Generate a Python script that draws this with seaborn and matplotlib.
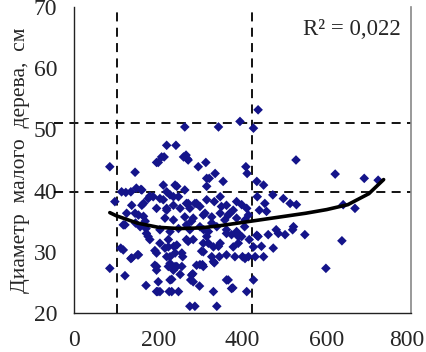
import numpy as np
import pandas as pd
import matplotlib
matplotlib.use("Agg")
import matplotlib.pyplot as plt
import matplotlib.transforms as mtransforms
import seaborn as sns
from matplotlib.ticker import MultipleLocator

# ---- data ----
x_vals = [85, 85, 97, 111, 117, 121, 123, 121, 125, 137, 137, 145, 145, 148, 151, 157, 161, 165,
          169, 171, 172, 176, 180, 188, 192, 196, 200, 196, 199, 204, 212, 214, 212, 216, 220, 220,
          224, 228, 224, 226, 232, 236, 237, 240, 242, 244, 248, 252, 256, 258, 260, 263, 263, 267,
          269, 267, 271, 275, 277, 279, 282, 283, 287, 291, 295, 298, 299, 303, 305, 308, 311, 313,
          315, 319, 321, 327, 331, 333, 335, 339, 343, 343, 345, 347, 350, 354, 358, 362, 366, 370,
          374, 377, 382, 386, 388, 390, 394, 398, 400, 405, 408, 410, 411, 414, 416, 426, 426, 430,
          434, 435, 437, 437, 440, 445, 450, 450, 453, 457, 461, 472, 473, 480, 485, 497, 501, 513,
          519, 521, 527, 528, 548, 598, 620, 636, 639, 667, 689, 722,
          113, 135, 159, 161, 180, 153, 165, 146, 171, 176, 117, 135, 153, 208, 266, 271, 315, 240,
          220, 204, 228, 248, 236, 196, 220, 252, 267, 275, 287, 299, 315, 333, 362, 378, 410, 216,
          236, 263, 283, 307, 327, 347, 366, 386, 406, 414, 204, 228, 248, 275, 299, 319, 339, 362,
          386, 398, 434, 204, 224, 244, 271, 307, 315, 331, 347, 378, 390, 426, 196, 220, 240, 256,
          307, 327, 362, 406, 192, 228, 244, 291, 307, 331, 196, 236, 279, 200, 228, 283, 362, 374,
          196, 232]
y_vals = [43.9, 27.3, 38.2, 30.6, 30.3, 26.1, 39.7, 34.4, 36.3, 29.0, 37.6, 43.0, 36.3, 40.4, 29.5,
          34.1, 40.1, 37.9, 35.0, 24.5, 33.0, 38.7, 32.0, 39.0, 30.2, 44.6, 44.6, 27.6, 23.5, 23.5,
          38.5, 45.5, 40.9, 30.6, 47.4, 36.8, 32.0, 29.2, 27.6, 23.5, 25.5, 39.0, 30.9, 27.6, 47.4,
          40.7, 23.5, 26.3, 27.6, 29.2, 45.5, 40.1, 50.4, 34.4, 45.2, 32.0, 37.9, 21.1, 25.4, 35.0,
          26.4, 32.0, 21.1, 37.9, 43.9, 24.4, 27.9, 30.1, 27.9, 33.6, 36.3, 44.6, 40.7, 31.4, 42.0,
          34.7, 23.5, 28.2, 42.8, 21.1, 50.4, 30.9, 29.2, 39.0, 37.4, 41.5, 35.2, 33.0, 25.4, 36.3,
          32.8, 24.1, 29.2, 38.2, 33.0, 31.4, 51.3, 37.7, 29.2, 34.1, 43.9, 23.5, 42.8, 29.2, 32.0,
          50.2, 25.4, 29.2, 41.5, 39.0, 53.2, 32.5, 36.8, 30.9, 29.2, 40.9, 37.9, 36.6, 32.8, 39.3,
          30.6, 33.6, 33.0, 38.7, 32.8, 37.9, 33.6, 34.1, 45.0, 37.7, 32.8, 27.3, 42.7, 31.8, 37.7,
          37.1, 42.0, 41.7,
          39.8, 39.8, 40.2, 37.6, 39.1, 36.0, 35.8, 34.7, 33.8, 32.5, 34.4, 28.9, 29.5, 45.5, 45.8,
          45.0, 42.0, 40.9, 39.8, 38.7, 39.3, 39.0, 37.6, 37.1, 37.1, 37.1, 37.9, 37.1, 37.9, 37.4,
          38.5, 38.2, 37.6, 36.8, 37.1, 35.5, 35.2, 35.7, 35.5, 36.0, 35.7, 36.3, 36.0, 35.5, 35.2,
          36.0, 33.6, 33.3, 33.8, 33.6, 34.1, 33.3, 34.1, 33.6, 33.3, 32.5, 32.7, 31.4, 30.8, 31.1,
          31.7, 31.4, 32.5, 30.8, 31.4, 30.8, 32.5, 30.8, 29.8, 29.2, 29.8, 29.8, 30.0, 29.2, 29.5,
          28.9, 27.8, 28.1, 27.6, 27.8, 27.6, 28.4, 27.0, 27.0, 26.2, 25.1, 25.4, 25.1, 25.4, 24.0,
          23.5, 23.5]

trend_x = [85, 100, 150, 200, 250, 300, 350, 400, 450, 500, 550, 600, 650, 700, 735]
trend_y = [36.4, 35.9, 34.7, 34.0, 33.8, 33.9, 34.3, 34.8, 35.3, 35.8, 36.3, 36.9, 37.7, 39.5, 41.8]

vlines = [101, 422]
hlines = [51.1, 39.7]

x_ticks = [0, 200, 400, 600, 800]
y_ticks = [20, 30, 40, 50, 60, 70]
r2_text = "R² = 0,022"
y_label = "Диаметр  малого  дерева,  см"

# ---- plot ----
sns.set_style("white")
plt.rcParams['font.family'] = ['Liberation Serif', 'DejaVu Serif']

fig = plt.figure(figsize=(4.26, 3.52), dpi=100)
ax = fig.add_axes([74 / 426, 1 - 313 / 352, (411 - 74) / 426, (313 - 7) / 352])

df = pd.DataFrame({"x": x_vals, "y": y_vals})
tr = pd.DataFrame({"x": trend_x, "y": trend_y})

for v in vlines:
    ax.axvline(v, color="black", lw=1.3, ls=(0, (5, 3.5)), zorder=1)
for h in hlines:
    ax.axhline(h, xmin=-0.06, xmax=1, color="black", lw=1.3, ls=(0, (5, 3.5)),
               clip_on=False, zorder=1)

sns.scatterplot(data=df, x="x", y="y", marker="D", s=24, color="#14148a",
                edgecolor="none", linewidth=0, ax=ax, zorder=3)
sns.lineplot(data=tr, x="x", y="y", color="black", lw=2.6, ax=ax, zorder=4)

ax.set_xlim(0, 800)
ax.set_ylim(20, 70)
ax.set_xticks(x_ticks)
ax.set_yticks(y_ticks)
ax.xaxis.set_minor_locator(MultipleLocator(50))
ax.yaxis.set_minor_locator(MultipleLocator(5))
ax.tick_params(which="major", direction="inout", length=6, width=0.9, labelsize=17, color="#333333")
ax.tick_params(which="minor", direction="in", length=3.5, width=0.9, color="#555555")
ax.tick_params(axis="x", which="major", pad=9)
ax.tick_params(axis="y", which="major", pad=9)
ax.set_xlabel("")
ax.set_ylabel(y_label, fontsize=15.5, labelpad=3)

# nudge last x tick label so it stays inside the image (as in the reference)
fig.canvas.draw()
last = ax.get_xticklabels()[-1]
last.set_transform(last.get_transform() +
                   mtransforms.ScaledTranslation(-4 / 100, 0, fig.dpi_scale_trans))

for s in ["left", "bottom"]:
    ax.spines[s].set_color("#222222")
    ax.spines[s].set_linewidth(1.0)
ax.spines["top"].set_visible(False)
ax.spines["right"].set_color("#888888")
ax.spines["right"].set_linewidth(1.2)

ax.text(0.825, 0.925, r2_text, transform=ax.transAxes, ha="center", va="center", fontsize=16.5)

fig.savefig("out.png", dpi=100)
